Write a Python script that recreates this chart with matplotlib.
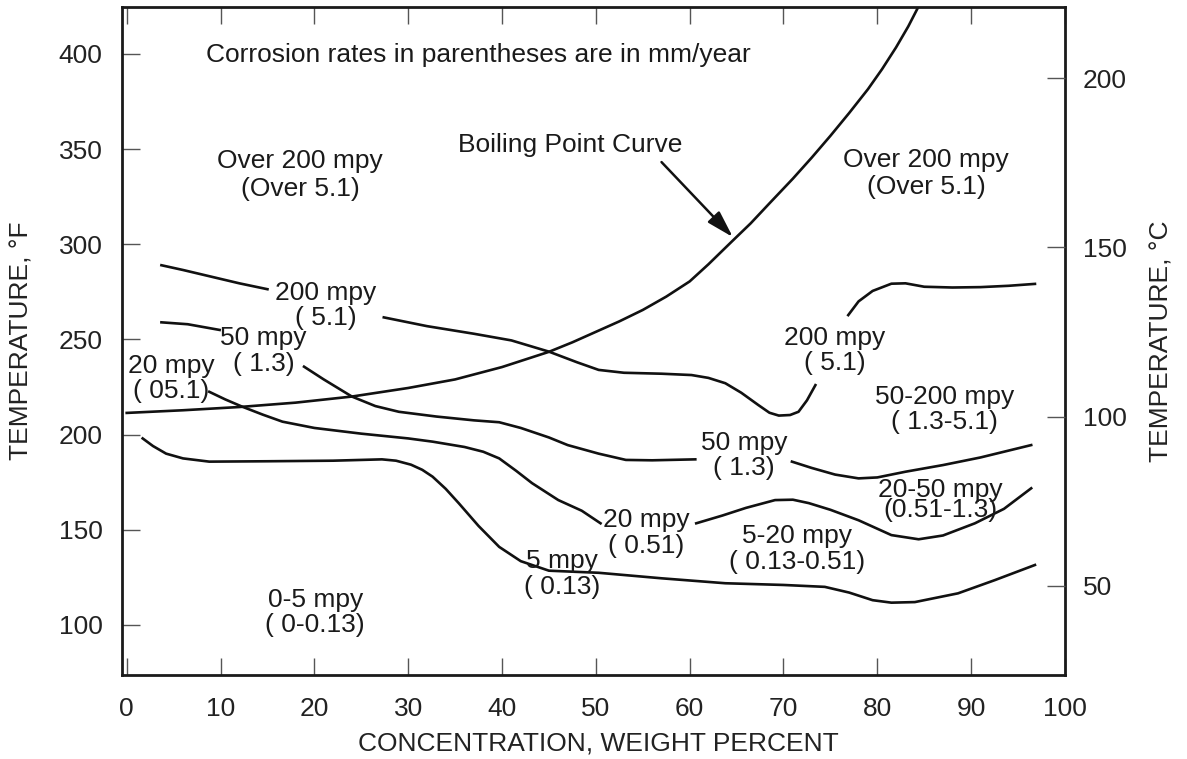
import matplotlib
matplotlib.use("Agg")
import matplotlib.pyplot as plt

plt.rcParams["font.family"] = ["Liberation Sans", "DejaVu Sans"]
plt.rcParams["font.size"] = 19

# boiling point of the acid vs concentration (wt %, deg F)
boil_x = [0, 6, 12, 18, 24, 30, 35, 40, 45, 47.5, 50, 52.5, 55, 57.5, 60, 62, 64.5, 66.5, 68.5,
          71, 73, 75, 77, 79, 80.5, 82, 83.3, 84.5]
boil_f = [211.4, 212.8, 214.5, 216.8, 220, 224.5, 229, 235.5, 243.5, 248.5, 254, 259.5, 265.5,
          272.5, 280.5, 289.5, 301.5, 311, 321.5, 334.5, 345.5, 357, 369, 381.5, 392, 403.5,
          414.5, 426]

# iso-corrosion lines, split where the labels sit
iso200_x = [[3.7, 6, 9, 12, 15],
            [27.4, 32, 37, 41, 45, 48, 50.3, 53, 57, 60.2, 62, 63.8, 65.5, 67.3, 68.5, 69.5,
             70.7, 71.6, 72.5, 73.4],
            [76.9, 78, 79.5, 81.5, 83, 85, 88, 91, 94, 96.8]]
iso200_f = [[289, 286.5, 283, 279.5, 276.4],
            [261.6, 257, 253, 249.5, 243.6, 238, 234, 232.5, 232, 231.3, 229.8, 227, 222, 215.6,
             211.5, 210, 210.3, 212, 218, 226],
            [262.8, 270, 275.5, 279.3, 279.5, 277.7, 277.3, 277.5, 278.2, 279.2]]

iso50_x = [[3.7, 6.5, 9.9],
           [18.9, 21, 24, 26.5, 29, 33, 37, 39.7, 42, 45, 47, 50.3, 53.2, 56, 60.6],
           [70.9, 73, 75.5, 78, 80, 83, 87, 91, 96.4]]
iso50_f = [[259, 258, 255],
           [235.7, 229, 220, 215, 212, 209.5, 207.5, 206.5, 203.5, 198.5, 194.5, 190, 186.7,
            186.5, 187],
           [185.8, 182.5, 179, 177, 177.5, 180.5, 184, 188, 194.5]]

iso20_x = [[8.8, 10.5, 12.3, 14.5, 16.6, 20, 25, 30, 32.6, 36, 38, 39.7, 41.5, 43.2, 46,
            48.5, 50.5],
           [60.7, 63.5, 66, 69.1, 71, 72.7, 75, 78, 81.5, 84.4, 87, 90.4, 93.5, 96.4]]
iso20_f = [[222.5, 218.5, 214.7, 210.5, 206.8, 203.5, 200.5, 198, 196.3, 193.5, 191, 187.5,
            181, 174.5, 165.6, 160, 153.4],
           [153.4, 157.5, 161.5, 165.6, 165.8, 164, 160.5, 155, 147.2, 145, 147, 153.4, 161,
            171.8]]

iso5_x = [[1.7, 2.8, 4.2, 6, 8.8, 15, 22, 27.2, 28.7, 30.3, 31.5, 32.6, 34, 35.4, 37.5, 39.7,
           42, 45, 50.3, 57, 63.8, 70, 74.4, 77, 79.5, 81.5, 84, 88.6, 92.5, 96.8]]
iso5_f = [[198, 194, 190, 187.5, 185.8, 186, 186.3, 187, 186.3, 184.2, 181.5, 177.9, 171.5,
           163.9, 152, 141, 133.5, 128.5, 127.4, 124.5, 121.9, 121, 120, 117, 113, 111.7, 112,
           116.6, 123.5, 131.5]]

# region / line labels: (text, x, deg F, line spacing)
labels = [
    ("Over 200 mpy\n(Over 5.1)", 18.5, 336.4, 1.2),
    ("Over 200 mpy\n(Over 5.1)", 85.2, 337.2, 1.15),
    ("200 mpy\n( 5.1)", 21.2, 268, 1.05),
    ("50 mpy\n( 1.3)", 14.6, 244, 1.1),
    ("20 mpy\n( 05.1)", 4.7, 229.7, 1.05),
    ("200 mpy\n( 5.1)", 75.5, 244.4, 1.05),
    ("50-200 mpy\n( 1.3-5.1)", 87.2, 213, 1.05),
    ("50 mpy\n( 1.3)", 65.8, 189, 1.1),
    ("20-50 mpy\n(0.51-1.3)", 86.7, 165.6, 0.8),
    ("20 mpy\n( 0.51)", 55.4, 148.5, 1.1),
    ("5-20 mpy\n( 0.13-0.51)", 71.4, 140, 1.1),
    ("5 mpy\n( 0.13)", 46.4, 126.7, 1.1),
    ("0-5 mpy\n( 0-0.13)", 20.1, 106.3, 1.05),
]

x_ticks = list(range(0, 101, 10))
f_ticks = [100, 150, 200, 250, 300, 350, 400]
c_ticks = [50, 100, 150, 200]

ink = "#1a1a1a"

fig = plt.figure(figsize=(11.87, 7.59), dpi=100)
ax = fig.add_axes([0.1028, 0.1107, 0.7944, 0.8801])
ax.set_xlim(-0.5, 100)
ax.set_ylim(73.7, 424.7)

ax.plot(boil_x, boil_f, color="#111111", lw=1.9)
for xs_list, fs_list in [(iso200_x, iso200_f), (iso50_x, iso50_f), (iso20_x, iso20_f), (iso5_x, iso5_f)]:
    for xs, fs in zip(xs_list, fs_list):
        ax.plot(xs, fs, color="#111111", lw=1.9)

for txt, x, f, ls in labels:
    ax.text(x, f, txt, ha="center", va="center", multialignment="center", color=ink,
            linespacing=ls)

ax.text(8.5, 399.5, "Corrosion rates in parentheses are in mm/year", ha="left", va="center",
        color=ink)
ax.text(47.3, 352.2, "Boiling Point Curve", ha="center", va="center", color=ink)
ax.annotate("", xy=(64.6, 303.8), xytext=(57, 343.2),
            arrowprops=dict(arrowstyle="-|>,head_length=0.75,head_width=0.22", lw=1.8,
                            color="#111111", mutation_scale=22, shrinkA=0, shrinkB=0))

ax.set_xticks(x_ticks)
ax.set_yticks(f_ticks)
ax.tick_params(axis="x", direction="in", length=12, width=1, color="#555555", top=True,
               pad=16, labelcolor="#222222")
ax.tick_params(axis="y", direction="in", length=13, width=1, color="#555555", pad=14,
               labelcolor="#222222")
for s in ax.spines.values():
    s.set_linewidth(2)
    s.set_color(ink)

ax2 = ax.twinx()
ax2.set_ylim(23.7, 221)
ax2.set_yticks(c_ticks)
ax2.tick_params(axis="y", direction="in", length=13, width=1, color="#555555", pad=13,
                labelcolor="#222222")
for s in ax2.spines.values():
    s.set_visible(False)

# axis titles placed in figure coordinates
fig.text(0.504, 1 - 743 / 759, "CONCENTRATION, WEIGHT PERCENT", ha="center", va="center",
         color="#222222")
fig.text(22 / 1187, 0.5 * (1 - 7 / 759 + 1 - 675 / 759), "TEMPERATURE, \u00b0F", rotation=90,
         ha="center", va="center", color="#222222")
fig.text(1162 / 1187, 0.5 * (1 - 7 / 759 + 1 - 675 / 759), "TEMPERATURE, \u00b0C", rotation=90,
         ha="center", va="center", color="#222222")

fig.savefig("out.png", dpi=100, facecolor="white")
